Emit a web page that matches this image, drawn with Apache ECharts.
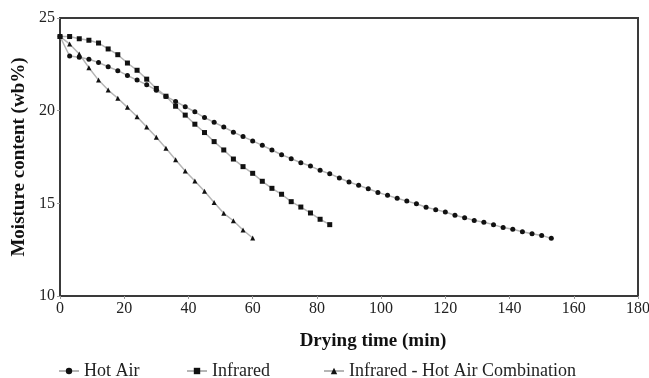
<!DOCTYPE html>
<html>
<head>
<meta charset="utf-8">
<script src="https://cdn.jsdelivr.net/npm/echarts@6/dist/echarts.min.js"></script>
<style>
html,body{margin:0;padding:0;background:#fff;}
#c{width:649px;height:378px;}
</style>
</head>
<body>
<div id="c"></div>
<script>
var seriesNames = ['Hot Air', 'Infrared', 'Infrared - Hot Air Combination'];
var hotAirTime = [0,3,6,9,12,15,18,21,24,27,30,33,36,39,42,45,48,51,54,57,60,63,66,69,72,75,78,81,84,87,90,93,96,99,102,105,108,111,114,117,120,123,126,129,132,135,138,141,144,147,150,153];
var hotAirMC = [24.0,22.95,22.88,22.77,22.6,22.37,22.16,21.9,21.65,21.4,21.1,20.77,20.5,20.21,19.94,19.63,19.37,19.12,18.84,18.6,18.37,18.13,17.88,17.62,17.41,17.19,17.01,16.78,16.6,16.37,16.15,15.97,15.79,15.59,15.43,15.27,15.12,14.98,14.79,14.66,14.53,14.36,14.22,14.08,13.98,13.85,13.69,13.6,13.47,13.36,13.27,13.11];
var infraredTime = [0,3,6,9,12,15,18,21,24,27,30,33,36,39,42,45,48,51,54,57,60,63,66,69,72,75,78,81,84];
var infraredMC = [24.0,24.0,23.88,23.8,23.65,23.33,23.02,22.57,22.18,21.7,21.2,20.78,20.24,19.76,19.27,18.82,18.33,17.88,17.39,16.98,16.62,16.19,15.81,15.49,15.09,14.8,14.48,14.14,13.85];
var comboTime = [0,3,6,9,12,15,18,21,24,27,30,33,36,39,42,45,48,51,54,57,60];
var comboMC = [24.0,23.6,23.06,22.32,21.65,21.11,20.67,20.18,19.67,19.12,18.56,17.97,17.35,16.74,16.2,15.65,15.05,14.46,14.06,13.56,13.13];
var xTicks = [0,20,40,60,80,100,120,140,160,180];
var yTicks = [10,15,20,25];

function pairs(t, v){ return t.map(function(x,i){ return [x, v[i]]; }); }

var FONT = '"Liberation Serif", "DejaVu Serif", serif';
var lineStyle = {color:'#b5b5b5', width:1.5};
function mkSeries(name, t, v, sym, size){
  return {
    name:name, type:'line', data:pairs(t,v), symbol:sym, symbolSize:size,
    showAllSymbol:true,
    itemStyle:{color:'#111'}, lineStyle:lineStyle, animation:false
  };
}
var chart = echarts.init(document.getElementById('c'));
function legendAt(name, left){
  return {data:[name], left:left, top:362, itemWidth:20, itemHeight:8, itemGap:6, padding:0,
    textStyle:{fontFamily:FONT, fontSize:18, color:'#222'}, selectedMode:false};
}
chart.setOption({
  animation:false,
  backgroundColor:'#fff',
  grid:{left:60, right:11, top:18, bottom:82, outerBoundsMode:'none', containLabel:false,
    show:true, borderColor:'#3a3a3a', borderWidth:2, backgroundColor:'transparent'},
  xAxis:{type:'value', min:xTicks[0], max:xTicks[xTicks.length-1], interval:20,
    axisLine:{show:true, lineStyle:{color:'#3a3a3a', width:2}},
    axisTick:{show:true, length:3, lineStyle:{color:'#999'}},
    splitLine:{show:false},
    axisLabel:{fontFamily:FONT, fontSize:16, color:'#222', margin:5},
    name:'Drying time (min)', nameLocation:'middle', nameGap:36,
    nameTextStyle:{fontFamily:FONT, fontSize:19, fontWeight:'bold', color:'#111', padding:[0,0,0,48]}
  },
  yAxis:{type:'value', min:yTicks[0], max:yTicks[yTicks.length-1], interval:5,
    axisLine:{show:true, lineStyle:{color:'#3a3a3a', width:2}},
    axisTick:{show:true, length:3, lineStyle:{color:'#999'}},
    splitLine:{show:false},
    axisLabel:{fontFamily:FONT, fontSize:16, color:'#222', margin:5},
    name:'Moisture content (wb%)', nameLocation:'middle', nameGap:29,
    nameTextStyle:{fontFamily:FONT, fontSize:19, fontWeight:'bold', color:'#111'}
  },
  legend:[legendAt(seriesNames[0],58), legendAt(seriesNames[1],186), legendAt(seriesNames[2],323)],
  series:[
    mkSeries(seriesNames[0], hotAirTime, hotAirMC, 'circle', 5),
    mkSeries(seriesNames[1], infraredTime, infraredMC, 'rect', 5),
    mkSeries(seriesNames[2], comboTime, comboMC, 'triangle', 5)
  ]
});
</script>
</body>
</html>
